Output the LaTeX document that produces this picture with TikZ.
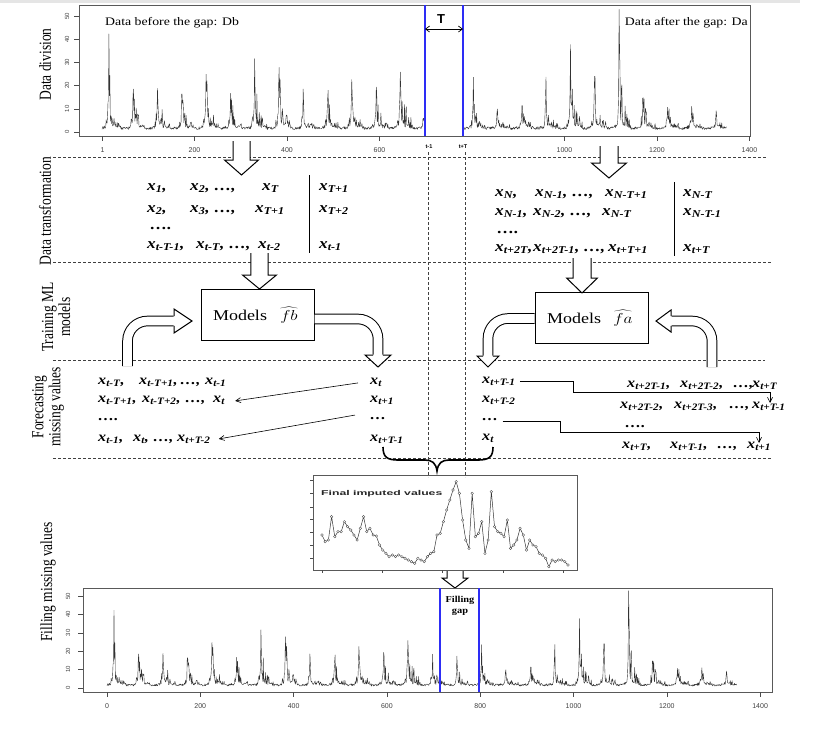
\documentclass[tikz,border=0pt]{standalone}
\usepackage{fontspec}
\setmainfont{Liberation Serif}
\newfontfamily\arial{Liberation Sans}
\usetikzlibrary{arrows.meta}
\definecolor{gapblue}{RGB}{45,45,245}
\newcommand\xv[1]{x\textsubscript{#1}}
\newcommand\sx[1]{\scalebox{1.15}[1]{#1}}
\newcommand\mt[4]{\node[mt] (#1) at (#2,#3) {\sx{#4}};}
\newcommand\ft[4]{\node[ft] (#1) at (#2,#3) {\sx{#4}};}
\newcommand\hdown[6]{%
  \fill[white] (#1-#4,#2) -- (#1-#4,#3-#6) -- (#1-#5,#3-#6) -- (#1,#3) -- (#1+#5,#3-#6) -- (#1+#4,#3-#6) -- (#1+#4,#2) -- cycle;
  \draw[line width=1pt,line join=miter] (#1-#4,#2) -- (#1-#4,#3-#6) -- (#1-#5,#3-#6) -- (#1,#3) -- (#1+#5,#3-#6) -- (#1+#4,#3-#6) -- (#1+#4,#2);}
\def\tsamps{{38,27,28,24,35,23,36,46,18,23,33,26,41,20,18,20,15,15,23,39,32,52,23,16,15,11}}
\pgfmathdeclarefunction{tsval}{1}{%
  \begingroup
  \pgfmathtruncatemacro\tsk{min(25,(#1+11)/52.5)}%
  \pgfmathtruncatemacro\tsc{15+round(52.5*\tsk)}%
  \pgfmathsetmacro\tsd{abs(#1-\tsc)}%
  \pgfmathsetmacro\tssgn{(#1-\tsc)>=0}%
  \pgfmathsetmacro\tse{\tssgn*exp(-\tsd/13)+(1-\tssgn)*exp(-\tsd/3.5)}%
  \pgfmathsetmacro\tsA{\tsamps[\tsk]}%
  \pgfmathsetmacro\tsr{rnd}%
  \pgfmathparse{1+1.2*rnd+\tsA*exp(-\tsd/1.2)*0.52+\tsA*\tse*(0.06+0.55*\tsr*\tsr*\tsr)}%
  \pgfmathsmuggle\pgfmathresult
  \endgroup}
\begin{document}
\begin{tikzpicture}[x=1pt,y=-1pt,
  series/.style={black!80,line width=0.4pt,line join=round},
  frame/.style={black!65,line width=0.7pt},
  dsh/.style={black!75,line width=0.6pt,dash pattern=on 3pt off 2pt},
  gapline/.style={gapblue,line width=1.8pt},
  mt/.style={anchor=base west,inner sep=0pt,font=\fontsize{15}{17}\selectfont\bfseries\itshape},
  ft/.style={anchor=base west,inner sep=0pt,font=\fontsize{14}{16}\selectfont\bfseries\itshape},
  side/.style={rotate=90,inner sep=0pt,align=center,font=\fontsize{13.5}{17}\selectfont},
  tick/.style={black!70,line width=0.5pt},
  tlab/.style={inner sep=0pt,font=\arial\fontsize{7}{8}\selectfont,text=black!75},
  ylab/.style={inner sep=0pt,rotate=90,font=\arial\fontsize{6}{7}\selectfont,text=black!75},
  hol/.style={double=white,double distance=8.6pt,line width=1pt,rounded corners=20pt},
  farr/.style={-{Straight Barb[length=5pt,width=5pt]},line width=0.6pt},
  box/.style={draw,line width=1pt,minimum width=113pt,minimum height=51pt,inner sep=0pt},
  boxt/.style={inner sep=0pt,anchor=base,font=\fontsize{15}{17}\selectfont}]
\useasboundingbox (0,0) rectangle (827,732);
\fill[black!10] (0,0) rectangle (800,3);

% ---------------- top chart ----------------
\begin{scope}
\clip (79,5) rectangle (425,136) (463,5) rectangle (750,136);
\pgfmathsetseed{2024}
\draw[series] plot[domain=0:1350,samples=1351] ({102+0.4625*\x},{132-2.32*tsval(\x)});
\end{scope}
\draw[frame] (79,5) rectangle (750,136);
\foreach \v [count=\i from 0] in {0,10,20,30,40,50}{
  \draw[tick] (74,{132-23.2*\i}) -- (79,{132-23.2*\i});
  \node[ylab] (ty\i) at (67,{132-23.2*\i}) {\v};}
\foreach \v/\lab [count=\i] in {1/1,200/200,400/400,600/600,1000/1000,1200/1200,1400/1400}{
  \draw[tick] ({102+0.4625*\v},136) -- ({102+0.4625*\v},141);
  \node[tlab] (tx\i) at ({102+0.4625*\v},150) {\lab};}
\draw[gapline] (425,5) -- (425,136);
\draw[gapline] (463,5) -- (463,136);
\coordinate (ta) at (425,29); \coordinate (tb) at (463,29);
\draw[{Straight Barb[length=4pt,width=6pt]}-{Straight Barb[length=4pt,width=6pt]},line width=0.7pt] (ta) -- (tb);
\node[inner sep=0pt,font=\arial\bfseries\fontsize{13}{14}\selectfont] (T) at (441,19) {T};
\node[inner sep=0pt,font=\arial\bfseries\fontsize{5.5}{6}\selectfont] (tm1) at (429,147) {t-1};
\node[inner sep=0pt,font=\arial\bfseries\fontsize{5.5}{6}\selectfont] (ttT) at (463,147) {t+T};
\node[anchor=base west,inner sep=0pt,font=\fontsize{11.5}{13}\selectfont] (db) at (105,25.5) {\scalebox{1.2}[1]{Data before the gap: Db}};
\node[anchor=base east,inner sep=0pt,font=\fontsize{11.5}{13}\selectfont] (da) at (748,25.5) {\scalebox{1.2}[1]{Data after the gap: Da}};

% ---------------- guides ----------------
\draw[dsh] (53,157) -- (767,157);
\draw[dsh] (53,262) -- (771,262);
\draw[dsh] (53,360) -- (765,360);
\draw[dsh] (53,458) -- (772,458);
\draw[dsh] (428,152) -- (428,477);
\draw[dsh] (465,152) -- (465,477);

% ---------------- side labels ----------------
\node[side] (l1) at (45,64.5) {\scalebox{1}[1.25]{Data division}};
\node[side] (l2) at (45,211) {\scalebox{1}[1.25]{Data transformation}};
\node[side] (l3) at (56,317) {\scalebox{1}[1.25]{Training ML}\\\scalebox{1}[1.25]{models}};
\node[side] (l4) at (48,407) {\scalebox{1}[1.25]{Forecasting}\\\scalebox{1}[1.25]{missing values}};
\node[side] (l5) at (48,582) {\scalebox{1}[1.25]{Filling missing values}};

% ---------------- hollow arrows down ----------------
\hdown{241.5}{141}{175}{8.5}{17}{15}
\hdown{609}{146}{178}{9}{17.5}{15}

% ---------------- data transformation ----------------
\mt{a11}{147}{190}{\xv{1},}
\mt{a12}{190}{190}{\xv{2}, …,}
\mt{a13}{262}{190}{\xv{T}}
\mt{a14}{319}{190}{\xv{T+1}}
\mt{a21}{147}{212}{\xv{2},}
\mt{a22}{190}{212}{\xv{3}, …,}
\mt{a23}{255}{212}{\xv{T+1}}
\mt{a24}{319}{212}{\xv{T+2}}
\mt{a31}{150}{229}{….}
\mt{a41}{147}{248}{\xv{t-T-1},}
\mt{a42}{196}{248}{\xv{t-T}, …,}
\mt{a43}{258}{248}{\xv{t-2}}
\mt{a44}{319}{248}{\xv{t-1}}
\draw[line width=1pt] (309,175) -- (309,253);

\mt{b11}{495}{196}{\xv{N},}
\mt{b12}{535}{196}{\xv{N-1}, …,}
\mt{b13}{605}{196}{\xv{N-T+1}}
\mt{b14}{683}{196}{\xv{N-T}}
\mt{b21}{495}{215}{\xv{N-1},}
\mt{b22}{533}{215}{\xv{N-2}, …,}
\mt{b23}{602}{215}{\xv{N-T}}
\mt{b24}{683}{215}{\xv{N-T-1}}
\mt{b31}{497}{233}{….}
\mt{b41}{495}{251}{\xv{t+2T},}
\mt{b42}{533}{251}{\xv{t+2T-1}, …,}
\mt{b43}{608}{251}{\xv{t+T+1}}
\mt{b44}{683}{251}{\xv{t+T}}
\draw[line width=1pt] (674,182) -- (674,256);

% ---------------- training ----------------
\hdown{259.5}{253}{289}{8.7}{17}{14}
\hdown{582}{258}{293}{9}{15.5}{15}
\node[box] (fb) at (257.5,314.5) {};
\node[boxt] (fbt) at (240,320) {\scalebox{1.2}[1]{Models}};
\node[boxt] (fbm) at (289,320) {\scalebox{1.2}[1]{$\widehat{fb}$}};
\node[box] (fa) at (591.5,318) {};
\node[boxt] (fat) at (574,323.5) {\scalebox{1.2}[1]{Models}};
\node[boxt] (fam) at (623,323.5) {\scalebox{1.2}[1]{$\widehat{fa}$}};

% curved hollow arrows
\draw[hol] (127.5,366) |- (174,321);
\fill[white] (173.5,309) -- (192,321) -- (173.5,333) -- cycle;
\draw[line width=1pt,line join=miter] (174,316.2) -- (174,309) -- (192,321) -- (174,333) -- (174,325.8);

\draw[hol] (fb.east |- 0,319) -| (378,355);
\fill[white] (365,354.5) -- (378,367) -- (391,354.5) -- cycle;
\draw[line width=1pt,line join=miter] (373.2,355) -- (365,355) -- (378,367) -- (391,355) -- (382.8,355);

\draw[hol] (fa.west |- 0,318.5) -| (488,356);
\fill[white] (477,355.5) -- (488,367) -- (499,355.5) -- cycle;
\draw[line width=1pt,line join=miter] (483.2,356) -- (477,356) -- (488,367) -- (499,356) -- (492.8,356);

\draw[hol] (712,367) |- (671,321);
\fill[white] (671.5,310) -- (656,321) -- (671.5,332) -- cycle;
\draw[line width=1pt,line join=miter] (671,316.2) -- (671,310) -- (656,321) -- (671,332) -- (671,325.8);

% ---------------- forecasting left ----------------
\ft{c11}{98}{384}{\xv{t-T},}
\ft{c12}{139}{384}{\xv{t-T+1},}
\ft{c13}{180}{384}{…,}
\ft{c14}{205}{384}{\xv{t-1}}
\ft{c21}{98}{402}{\xv{t-T+1},}
\ft{c22}{142}{402}{\xv{t-T+2},}
\ft{c23}{185}{402}{…,}
\ft{c24}{213}{402}{\xv{t}}
\ft{c31}{98}{420}{….}
\ft{c41}{98}{441}{\xv{t-1},}
\ft{c42}{133}{441}{\xv{t},}
\ft{c43}{153}{441}{…,}
\ft{c44}{177}{441}{\xv{t+T-2}}
\ft{d1}{370}{384}{\xv{t}}
\ft{d2}{370}{402}{\xv{t+1}}
\ft{d3}{370}{419}{…}
\ft{d4}{370}{441}{\xv{t+T-1}}
\draw[farr] ([xshift=-12pt,yshift=-1pt]d1.west) -- ([xshift=10pt,yshift=-1pt]c24.east);
\draw[farr] ([xshift=-15pt,yshift=3pt]d3.west) -- ([xshift=8pt,yshift=0pt]c44.east);

% ---------------- forecasting right ----------------
\ft{e1}{482}{383}{\xv{t+T-1}}
\ft{e2}{482}{402}{\xv{t+T-2}}
\ft{e3}{482}{420}{…}
\ft{e4}{482}{440}{\xv{t}}
\ft{f11}{627}{387}{\xv{t+2T-1},}
\ft{f12}{680}{387}{\xv{t+2T-2},}
\ft{f13}{733}{387}{…,}
\ft{f14}{752}{387}{\xv{t+T}}
\ft{f21}{620}{408}{\xv{t+2T-2},}
\ft{f22}{674}{408}{\xv{t+2T-3},}
\ft{f23}{729}{408}{…,}
\ft{f24}{752}{408}{\xv{t+T-1}}
\ft{f31}{625}{427}{….}
\ft{f41}{622}{448}{\xv{t+T},}
\ft{f42}{670}{448}{\xv{t+T-1},}
\ft{f43}{717}{448}{…,}
\ft{f44}{747}{448}{\xv{t+1}}
\draw[farr] ([xshift=4pt]e1.east |- 0,381) -- (573,381) -- (573,392) -- (770,392) -- (770,403);
\draw[farr] ([xshift=4pt]e3.east |- 0,421) -- (560,421) -- (560,432) -- (759,432) -- (759,443);

% brace
\draw[line width=1.6pt] (383,447) .. controls (383,457) and (387,460) .. (398,460) -- (425,460) .. controls (432,460) and (436,463) .. (437,471) .. controls (438,463) and (442,460) .. (449,460) -- (478,460) .. controls (489,460) and (493,457) .. (493,447);

% ---------------- imputed chart ----------------
\draw[frame,line width=0.6pt] (313,475) rectangle (577,570);
\foreach \yy in {480,493,507,519,532,545,558}{\draw[tick] (310,\yy) -- (313,\yy);}
\foreach \xx in {322,382,442,503,563}{\draw[tick] (\xx,570) -- (\xx,573);}
\node[anchor=west,inner sep=0pt,font=\arial\bfseries\fontsize{7}{8}\selectfont,text=black!85] (fiv) at (321,494) {\scalebox{1.75}[1]{Final imputed values}};
\draw[black!80,line width=0.5pt] (322,535) \foreach \v [count=\i] in {245,240,170,230,215,215,185,200,210,225,240,205,170,215,205,225,228,255,270,280,290,285,290,285,290,295,300,305,310,295,300,305,290,280,275,225,220,185,150,120,90,65,100,180,240,265,100,230,220,185,280,240,95,200,215,220,230,180,265,255,240,205,225,270,240,255,260,280,285,295,320,300,305,300,300,305,315}{ -- ({322+\i*3.195},{460+\v/3}) };
\foreach \v [count=\i from 0] in {225,245,240,170,230,215,215,185,200,210,225,240,205,170,215,205,225,228,255,270,280,290,285,290,285,290,295,300,305,310,295,300,305,290,280,275,225,220,185,150,120,90,65,100,180,240,265,100,230,220,185,280,240,95,200,215,220,230,180,265,255,240,205,225,270,240,255,260,280,285,295,320,300,305,300,300,305,315}{
  \draw[black!70,line width=0.35pt,fill=white] ({322+\i*3.195},{460+\v/3}) circle (1.3);}
\hdown{455}{571}{588}{8}{13}{10}

% ---------------- bottom chart ----------------
\pgfmathsetseed{2024}
\draw[series] plot[domain=0:1350,samples=1351] ({107+0.4665*\x},{688-1.84*tsval(\x)});
\draw[frame] (83,588) rectangle (772,692);
\foreach \v [count=\i from 0] in {0,10,20,30,40,50}{
  \draw[tick] (78,{688-18.4*\i}) -- (83,{688-18.4*\i});
  \node[ylab] (by\i) at (68,{688-18.4*\i}) {\v};}
\foreach \v [count=\i] in {0,200,400,600,800,1000,1200,1400}{
  \draw[tick] ({107+0.4665*\v},692) -- ({107+0.4665*\v},697);
  \node[tlab] (bx\i) at ({107+0.4665*\v},706) {\v};}
\draw[gapline] (440,588) -- (440,692);
\draw[gapline] (479,588) -- (479,692);
\node[inner sep=0pt,align=center,font=\bfseries\fontsize{9}{11}\selectfont] (fg) at (460,606) {\sx{Filling}\\\sx{gap}};
\end{tikzpicture}
\end{document}
